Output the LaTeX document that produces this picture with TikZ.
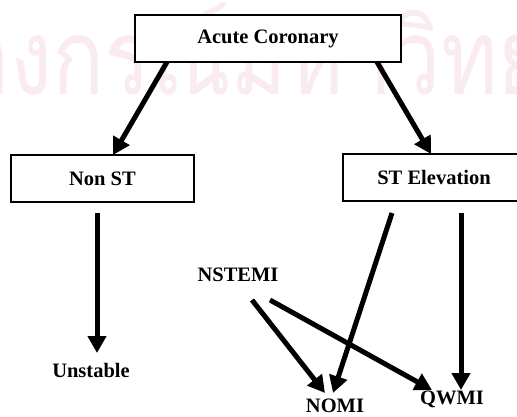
\documentclass[tikz,border=0pt]{standalone}
\usepackage{fontspec}
\setmainfont{Liberation Serif}
\newfontfamily\thaifont[Script=Thai]{Loma}
\usetikzlibrary{arrows.meta}
\definecolor{wmpink}{HTML}{F9EBEE}
\tikzset{
  boxnode/.style={draw=black, line width=1.6pt, fill=white, inner sep=0pt,
    font=\bfseries\fontsize{20.5}{24}\selectfont},
  lbl/.style={inner sep=0pt, font=\bfseries\fontsize{20.5}{24}\selectfont},
  arr/.style={line width=5pt, -{Triangle[length=17pt,width=18pt]}},
}
\begin{document}
\begin{tikzpicture}[x=1pt,y=-1pt]
\useasboundingbox (0,0) rectangle (517,416);
\begin{scope}
\clip (0,0) rectangle (517,416);
\node[text=wmpink, inner sep=0pt, anchor=base, font=\thaifont\fontsize{105}{105}\selectfont] (wm) at (250,94) {\scalebox{0.82}[1]{จุฬาลงกรณ์มหาวิทยาลัย}};
\end{scope}

\node[boxnode, minimum width=266pt, minimum height=47pt] (acute) at (268,38.5) {Acute Coronary};
\node[boxnode, minimum width=183pt, minimum height=47pt] (nonst) at (102.5,178.5) {Non ST};
\node[boxnode, minimum width=182pt, minimum height=47pt] (st) at (434,177.5) {ST Elevation};

\node[lbl] (unstable) at (91,370) {Unstable};
\node[lbl] (nstemi) at (238,275) {NSTEMI};
\node[lbl] (nomi) at (335,406) {NOMI};
\node[lbl] (qwmi) at (452,399) {QWMI};

\draw[arr] ([shift={(-101,23.5)}]acute.center) -- ([shift={(10.5,-23.5)}]nonst.center);
\draw[arr] ([shift={(109,23.5)}]acute.center) -- ([shift={(-3,-23.5)}]st.center);
\draw[arr] ([shift={(-5.5,34.5)}]nonst.center) -- ([shift={(6,-17)}]unstable.center);
\draw[arr] ([shift={(-42,35.5)}]st.center) -- ([shift={(-2,-13)}]nomi.center);
\draw[arr] ([shift={(27,35.5)}]st.center) -- ([shift={(9,-9)}]qwmi.center);
\draw[arr] ([shift={(14,25)}]nstemi.center) -- ([shift={(-10,-13)}]nomi.center);
\draw[arr] ([shift={(32,25)}]nstemi.center) -- ([shift={(-20,-9)}]qwmi.center);
\end{tikzpicture}
\end{document}
